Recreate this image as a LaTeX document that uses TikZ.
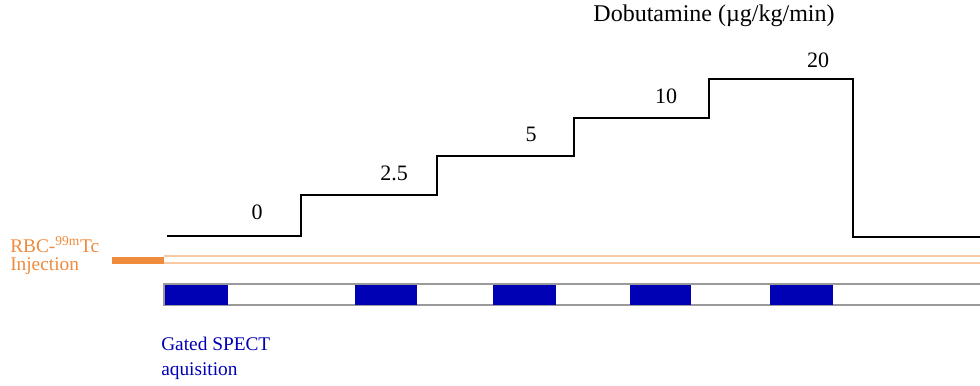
\documentclass[tikz,border=0pt]{standalone}
\usepackage{fontspec}
\setmainfont{Liberation Serif}
\definecolor{injorange}{HTML}{F08A3C}
\definecolor{injlight}{HTML}{F9C9A4}
\definecolor{spectblue}{HTML}{0000B4}
\definecolor{bargray}{HTML}{9A9A9A}
\begin{document}
\begin{tikzpicture}[x=0.75pt,y=-0.75pt,
  dose/.style={anchor=base,font=\fontsize{16.5}{18}\selectfont,inner sep=0pt},
  lbl/.style={anchor=base west,inner sep=0pt,font=\fontsize{14.5}{16}\selectfont},
  stair/.style={line width=1.9pt,line join=miter},
  spect/.style={fill=spectblue,draw=none}]
\useasboundingbox (0,0) rectangle (980,385);
% staircase
\draw[stair] (167,236) -- (301,236) -- (301,195) -- (437,195) -- (437,156)
  -- (574,156) -- (574,118) -- (709,118) -- (709,79) -- (853,79) -- (853,237) -- (981,237);
\node[dose] (title) at (714,21.5) {\fontsize{18}{20}\selectfont Dobutamine (µg/kg/min)};
\node[dose] (d0) at (257,219) {0};
\node[dose] (d1) at (394,180) {2.5};
\node[dose] (d2) at (531,141) {5};
\node[dose] (d3) at (666,103) {10};
\node[dose] (d4) at (818,67) {20};
% injection
\draw[injlight,line width=0.9pt] (164,256) -- (981,256);
\draw[injlight,line width=0.9pt] (164,263) -- (981,263);
\fill[injorange] (112,257) rectangle (164,264);
\node[lbl,text=injorange] (inj1) at (10,252) {RBC-\textsuperscript{99m}Tc};
\node[lbl,text=injorange] (inj2) at (10,270) {Injection};
% SPECT bar
\draw[bargray,line width=0.9pt] (164,284) rectangle (981,305);
\foreach \a/\b in {165/228,355/417,493/556,630/691,770/833}
  \fill[spectblue] (\a,284.5) rectangle (\b,304.5);
\node[lbl,text=spectblue] (sp1) at (161,350) {Gated SPECT};
\node[lbl,text=spectblue] (sp2) at (161,375) {aquisition};
\end{tikzpicture}
\end{document}
